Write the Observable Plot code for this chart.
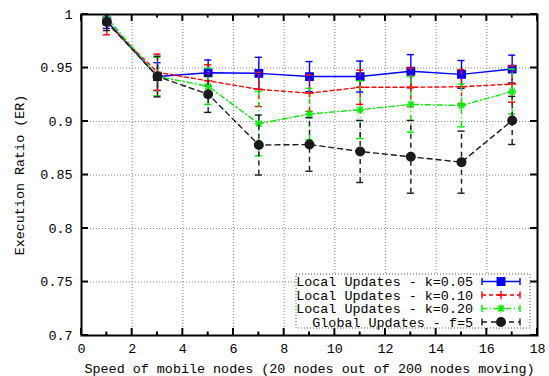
<!DOCTYPE html>
<html>
<head>
<meta charset="utf-8">
<script src="https://cdn.jsdelivr.net/npm/d3@7"></script>
<script src="https://cdn.jsdelivr.net/npm/@observablehq/plot@0.6"></script>
<style>
  html, body { margin: 0; padding: 0; background: #fff; }
  #chart { width: 549px; height: 376px; }
</style>
</head>
<body>
<div id="chart"></div>
<script>
// ---- data ----
const speeds = [1, 3, 5, 7, 9, 11, 13, 15, 17];

const seriesNames = [
  "Local Updates - k=0.05",
  "Local Updates - k=0.10",
  "Local Updates - k=0.20",
  " Global Updates - f=5"
];

const localK005 = [0.994, 0.942, 0.9455, 0.945, 0.942, 0.942, 0.947, 0.944, 0.949];
const localK005Err = [0.007, 0.013, 0.012, 0.015, 0.014, 0.0145, 0.0155, 0.013, 0.013];

const localK010 = [0.992, 0.946, 0.938, 0.930, 0.9265, 0.932, 0.932, 0.9325, 0.935];
const localK010Err = [0.011, 0.017, 0.015, 0.016, 0.017, 0.016, 0.018, 0.016, 0.017];

const localK020 = [0.997, 0.942, 0.933, 0.898, 0.907, 0.911, 0.916, 0.915, 0.928];
const localK020Err = [0.006, 0.018, 0.017, 0.030, 0.024, 0.027, 0.026, 0.020, 0.021];

const globalF5 = [0.993, 0.942, 0.9255, 0.878, 0.8785, 0.872, 0.867, 0.862, 0.901];
const globalF5Err = [0.008, 0.019, 0.017, 0.028, 0.025, 0.029, 0.034, 0.029, 0.0225];

const xMajorTicks = [0, 2, 4, 6, 8, 10, 12, 14, 16, 18];
const xMinorTicks = [1, 3, 5, 7, 9, 11, 13, 15, 17];
const yMajorTicks = [0.7, 0.75, 0.8, 0.85, 0.9, 0.95, 1];
const xTickLabels = ["0", "2", "4", "6", "8", "10", "12", "14", "16", "18"];
const yTickLabels = ["0.7", "0.75", "0.8", "0.85", "0.9", "0.95", "1"];

const xTitle = "Speed of mobile nodes (20 nodes out of 200 nodes moving)";
const yTitle = "Execution Ratio (ER)";

// ---- styles ----
const star8 = {
  draw(context, size) {
    const r = Math.sqrt(size) / 2;
    const d = r * Math.SQRT1_2;
    context.moveTo(-r, 0); context.lineTo(r, 0);
    context.moveTo(0, -r); context.lineTo(0, r);
    context.moveTo(-d, -d); context.lineTo(d, d);
    context.moveTo(-d, d); context.lineTo(d, -d);
  }
};
const plusSym = {
  draw(context, size) {
    const r = Math.sqrt(size) / 2;
    context.moveTo(-r, 0); context.lineTo(r, 0);
    context.moveTo(0, -r); context.lineTo(0, r);
  }
};

const styles = [
  {color: "#0000ff", dash: null, symbol: d3.symbolSquare, r: 4.2, fill: "#0000ff"},
  {color: "#ff0000", dash: "4,3", symbol: plusSym, r: 4.6, fill: "none"},
  {color: "#00f000", dash: "5,3,1,3", symbol: star8, r: 4.6, fill: "none"},
  {color: "#1a1a1a", dash: "5,4", symbol: d3.symbolCircle, r: 4.3, fill: "#1a1a1a"}
];

const values = [localK005, localK010, localK020, globalF5];
const errors = [localK005Err, localK010Err, localK020Err, globalF5Err];

const capHalf = 0.14; // half width of error-bar caps in x units

const series = seriesNames.map((name, i) => ({
  name,
  style: styles[i],
  data: speeds.map((x, j) => ({x, y: values[i][j], e: errors[i][j]}))
}));

const seriesMarks = series.flatMap(s => {
  const st = s.style;
  const common = {stroke: st.color, strokeWidth: 1.4, strokeDasharray: st.dash, clip: true};
  return [
    Plot.ruleX(s.data, {x: "x", y1: d => d.y - d.e, y2: d => d.y + d.e, ...common}),
    Plot.ruleY(s.data, {y: d => d.y - d.e, x1: d => d.x - capHalf, x2: d => d.x + capHalf, ...common, strokeDasharray: null}),
    Plot.ruleY(s.data, {y: d => d.y + d.e, x1: d => d.x - capHalf, x2: d => d.x + capHalf, ...common, strokeDasharray: null}),
    Plot.line(s.data, {x: "x", y: "y", ...common}),
    Plot.dot(s.data, {x: "x", y: "y", symbol: st.symbol, r: st.r, fill: st.fill, stroke: st.color, strokeWidth: 1.4, clip: true})
  ];
});

const mLeft = 81, mRight = 12, mTop = 14, mBottom = 41;
const W = 549, H = 376;

const chart = Plot.plot({
  width: W,
  height: H,
  marginLeft: mLeft, marginRight: mRight, marginTop: mTop, marginBottom: mBottom,
  style: {fontFamily: "'Liberation Mono', 'DejaVu Sans Mono', monospace", fontSize: "13.4px", background: "#fff", color: "#000"},
  x: {domain: [0, 18]},
  y: {domain: [0.7, 1]},
  marks: [
    Plot.gridX(xMajorTicks.slice(1, -1), {stroke: "#888", strokeOpacity: 1, strokeDasharray: "1,2"}),
    Plot.gridY(yMajorTicks.slice(1, -1), {stroke: "#888", strokeOpacity: 1, strokeDasharray: "1,2"}),
    Plot.axisX(xMajorTicks, {anchor: "bottom", tickSize: 0, tickPadding: 8, tickFormat: d => xTickLabels[xMajorTicks.indexOf(d)], label: xTitle, labelAnchor: "center", labelOffset: 37, labelArrow: "none"}),
    Plot.axisY(yMajorTicks, {anchor: "left", tickSize: 0, tickPadding: 9, tickFormat: d => yTickLabels[yMajorTicks.indexOf(d)], label: yTitle, labelAnchor: "center", labelOffset: 67, labelArrow: "none"}),
    ...seriesMarks,
    Plot.frame({stroke: "#000", strokeWidth: 2})
  ]
});

document.getElementById("chart").appendChild(chart);

// ---- inward (gnuplot style) ticks on all four sides, placed with the chart's scales ----
const xs = chart.scale("x"), ys = chart.scale("y");
const svg = d3.select(chart);
const fTop = mTop, fBottom = H - mBottom, fLeft = mLeft, fRight = W - mRight;
const tg = svg.append("g").attr("stroke", "#000").attr("stroke-width", 2);
[[xMajorTicks, 7], [xMinorTicks, 3.5]].forEach(([ticks, len]) => {
  ticks.forEach(v => {
    const px = xs.apply(v);
    tg.append("line").attr("x1", px).attr("x2", px).attr("y1", fBottom).attr("y2", fBottom - len);
    tg.append("line").attr("x1", px).attr("x2", px).attr("y1", fTop).attr("y2", fTop + len);
  });
});
yMajorTicks.forEach(v => {
  const py = ys.apply(v);
  tg.append("line").attr("x1", fLeft).attr("x2", fLeft + 7).attr("y1", py).attr("y2", py);
  tg.append("line").attr("x1", fRight).attr("x2", fRight - 7).attr("y1", py).attr("y2", py);
});

// ---- legend (inside the plot frame, bottom right) ----
const lg = svg.append("g")
  .attr("font-family", "'Liberation Mono', 'DejaVu Sans Mono', monospace")
  .attr("font-size", "13.4px");
lg.append("rect")
  .attr("x", 296).attr("y", 274).attr("width", 234).attr("height", 54)
  .attr("fill", "#fff").attr("stroke", "#555").attr("stroke-width", 1)
  .attr("stroke-dasharray", "1,2");
series.forEach((s, i) => {
  const st = s.style;
  const cy = 281.5 + i * 13.5;
  lg.append("text")
    .attr("x", 473).attr("y", cy).attr("dy", "0.35em")
    .attr("text-anchor", "end").attr("fill", "#000")
    .attr("xml:space", "preserve").style("white-space", "pre")
    .text(s.name);
  const g = lg.append("g").attr("stroke", st.color).attr("stroke-width", 1.4).attr("fill", "none");
  g.append("line").attr("x1", 482).attr("x2", 520).attr("y1", cy).attr("y2", cy)
    .attr("stroke-dasharray", st.dash);
  g.append("line").attr("x1", 482).attr("x2", 482).attr("y1", cy - 3.5).attr("y2", cy + 3.5);
  g.append("line").attr("x1", 520).attr("x2", 520).attr("y1", cy - 3.5).attr("y2", cy + 3.5);
  g.append("path")
    .attr("transform", `translate(501,${cy})`)
    .attr("d", d3.symbol(st.symbol, Math.PI * st.r * st.r)())
    .attr("fill", st.fill);
});
</script>
</body>
</html>
